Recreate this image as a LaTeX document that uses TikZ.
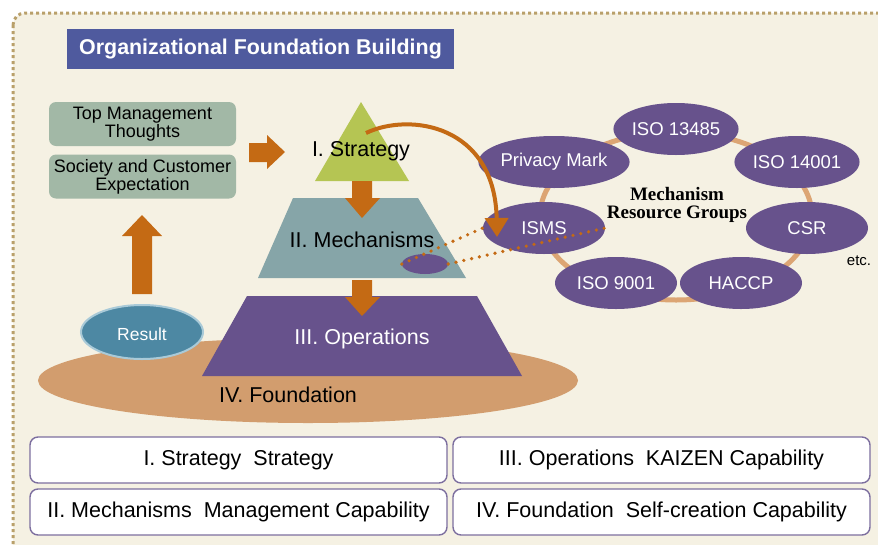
\documentclass[tikz,border=0pt]{standalone}
\usepackage{fontspec}
\setmainfont{Liberation Sans}
\newfontfamily\mechfont{Liberation Serif}
\usetikzlibrary{arrows.meta,shapes.geometric}
\definecolor{panelbg}{HTML}{F5F1E3}
\definecolor{panelline}{HTML}{B9A06A}
\definecolor{titleblue}{HTML}{4F5A9E}
\definecolor{sage}{HTML}{A2B8A6}
\definecolor{arroworange}{HTML}{C46A14}
\definecolor{leaf}{HTML}{B5C553}
\definecolor{teal}{HTML}{86A5A8}
\definecolor{plum}{HTML}{67528C}
\definecolor{tan}{HTML}{D29D6E}
\definecolor{ringtan}{HTML}{DCA574}
\definecolor{resblue}{HTML}{4D88A3}
\definecolor{resrim}{HTML}{A9CAD8}
\definecolor{boxline}{HTML}{7D6F9F}
\tikzset{
  inputbox/.style={fill=sage, rounded corners=7pt, minimum width=187pt, minimum height=44pt, inner sep=0pt, align=center, font=\fontsize{18}{16}\selectfont},
  blockarrow/.style={fill=arroworange},
  member/.style={ellipse, fill=plum, minimum width=122pt, minimum height=52pt, inner sep=0pt, text=white, font=\fontsize{18.5}{20}\selectfont},
  capbox/.style={draw=boxline, line width=1.4pt, fill=white, rounded corners=8pt, minimum width=417pt, minimum height=46pt, inner sep=0pt, font=\fontsize{21.5}{24}\selectfont},
  layertext/.style={font=\fontsize{21.5}{24}\selectfont, inner sep=0pt, anchor=base},
  projline/.style={arroworange, line width=3.6pt, line cap=round, dash pattern=on 0pt off 8pt}
}
\begin{document}
\begin{tikzpicture}[x=1pt,y=-1pt]
\useasboundingbox (0,0) rectangle (878,544);
\begin{scope}
\clip (0,0) rectangle (878,544);
\fill[panelbg] (13,13) [rounded corners=12pt] rectangle (905,570);
\draw[panelline, line width=3pt, dash pattern=on 3pt off 3pt, rounded corners=12pt] (13,13) rectangle (905,570);
\end{scope}

% title
\node[fill=titleblue, minimum width=387pt, minimum height=40pt, inner sep=0pt, text=white, font=\bfseries\fontsize{21.4}{24}\selectfont] (title) at (260.5,49) {Organizational Foundation Building};

% input boxes
\node[inputbox] (top) at (142.5,124) {Top Management\\Thoughts};
\node[inputbox] (soc) at (142.5,176.5) {Society and Customer\\Expectation};

% block arrows
\fill[blockarrow] (249,143) -- (267,143) -- (267,135) -- (285,152) -- (267,169) -- (267,162) -- (249,162) -- cycle;
\fill[blockarrow] (132,294) -- (152,294) -- (152,236) -- (162,236) -- (142,215) -- (122,236) -- (132,236) -- cycle;

% foundation
\fill[tan] (308,380.5) ellipse [x radius=270, y radius=42.5];
\node[ellipse, fill=resblue, draw=resrim, line width=2pt, minimum width=122pt, minimum height=54pt, inner sep=0pt] (result) at (142,332) {};
\node[text=white, font=\fontsize{17.5}{20}\selectfont, inner sep=0pt, anchor=base] (resulttext) at (142,340) {Result};

% pyramid
\fill[plum] (247,296) -- (477,296) -- (522,376) -- (202,376) -- cycle;
\fill[teal] (293,198) -- (418,198) -- (466,278) -- (258,278) -- cycle;
\fill[leaf] (361,102) -- (409,181) -- (315,181) -- cycle;
\fill[blockarrow] (352,181) -- (372,181) -- (372,198) -- (380,198) -- (362,218) -- (345,198) -- (352,198) -- cycle;
\fill[blockarrow] (352,280) -- (372,280) -- (372,297) -- (380,297) -- (362,316) -- (345,297) -- (352,297) -- cycle;
\node[ellipse, fill=plum, minimum width=46pt, minimum height=20pt, inner sep=0pt] (mini) at (425,264) {};

\node[layertext] (strat) at (361,156) {I. Strategy};
\node[layertext] (mech) at (362,247) {II. Mechanisms};
\node[layertext, text=white] (oper) at (362,344) {III. Operations};
\node[layertext] (found) at (288,402) {IV. Foundation};

% ring
\draw[ringtan, line width=5pt] (676,216) ellipse [x radius=136, y radius=84];
\node[member] (iso13485) at (676,129) {ISO 13485};
\node[member] (privacy) at (554,162) {Privacy Mark};
\node[member] (iso14001) at (797,162) {ISO 14001};
\node[member] (isms) at (544,228) {ISMS};
\node[member] (csr) at (807,228) {CSR};
\node[member] (iso9001) at (616,283) {ISO 9001};
\node[member] (haccp) at (741,283) {HACCP};
\node[align=center, inner sep=0pt, font=\mechfont\bfseries\fontsize{19}{18.5}\selectfont] (groups) at (677,205) {Mechanism\\Resource Groups};
\node[font=\fontsize{15}{18}\selectfont, inner sep=0pt] (etc) at (859,261) {etc.};

% projection lines and curved arrow
\draw[projline] (mini.west) -- (isms.west);
\draw[projline] (mini.east) -- (isms.east);
\coordinate (arcstart) at (366,133);
\coordinate (arcend) at (497,237);
\draw[arroworange, line width=4pt, -{Triangle[width=23pt,length=19pt]}] (arcstart) .. controls (410,112) and (495,125) .. (arcend);

% capability boxes
\node[capbox] (c1) at (238.5,460) {I. Strategy\ \ Strategy};
\node[capbox] (c2) at (661.5,460) {III. Operations\ \ KAIZEN Capability};
\node[capbox] (c3) at (238.5,512) {II. Mechanisms\ \ Management Capability};
\node[capbox] (c4) at (661.5,512) {IV. Foundation\ \ Self-creation Capability};
\end{tikzpicture}
\end{document}
